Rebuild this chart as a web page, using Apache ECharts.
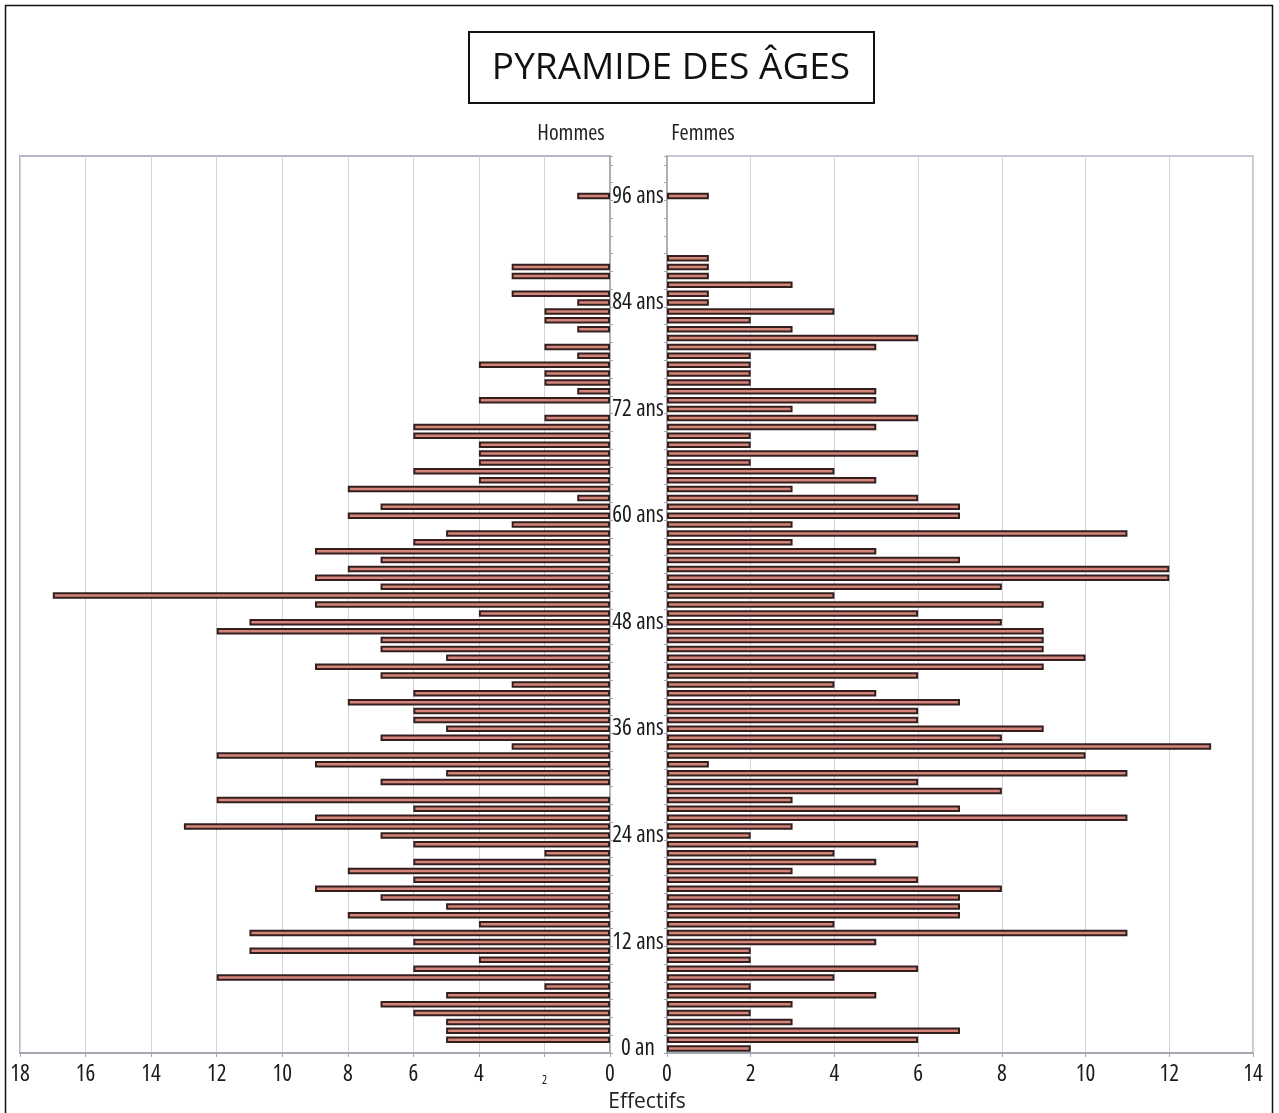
<!DOCTYPE html>
<html>
<head>
<meta charset="utf-8">
<title>Pyramide des âges</title>
<script src="https://cdn.jsdelivr.net/npm/echarts@6/dist/echarts.min.js"></script>
<style>
  html, body { margin: 0; padding: 0; background: #ffffff; }
  #chart { width: 1279px; height: 1113px; }
</style>
</head>
<body>
<div id="chart"></div>
<script>
// Age classes, 0 to 100 years (one bar per year)
const ages = Array.from({ length: 101 }, (_, i) => i);

// Men per age (index = age)
const maleCounts = [
  0, 5, 5, 5, 6, 7, 5, 2, 12, 6,
  4, 11, 6, 11, 4, 8, 5, 7, 9, 6,
  8, 6, 2, 6, 7, 13, 9, 6, 12, 0,
  7, 5, 9, 12, 3, 7, 5, 6, 6, 8,
  6, 3, 7, 9, 5, 7, 7, 12, 11, 4,
  9, 17, 7, 9, 8, 7, 9, 6, 5, 3,
  8, 7, 1, 8, 4, 6, 4, 4, 4, 6,
  6, 2, 0, 4, 1, 2, 2, 4, 1, 2,
  0, 1, 2, 2, 1, 3, 0, 3, 3, 0,
  0, 0, 0, 0, 0, 0, 1, 0, 0, 0, 0
];

// Women per age (index = age)
const femaleCounts = [
  2, 6, 7, 3, 2, 3, 5, 2, 4, 6,
  2, 2, 5, 11, 4, 7, 7, 7, 8, 6,
  3, 5, 4, 6, 2, 3, 11, 7, 3, 8,
  6, 11, 1, 10, 13, 8, 9, 6, 6, 7,
  5, 4, 6, 9, 10, 9, 9, 9, 8, 6,
  9, 4, 8, 12, 12, 7, 5, 3, 11, 3,
  7, 7, 6, 3, 5, 4, 2, 6, 2, 2,
  5, 6, 3, 5, 5, 2, 2, 2, 2, 5,
  6, 3, 2, 4, 1, 1, 3, 1, 1, 1,
  0, 0, 0, 0, 0, 0, 1, 0, 0, 0, 0
];

// Scale ticks
const maleTicks = [0, 2, 4, 6, 8, 10, 12, 14, 16, 18];
const femaleTicks = [0, 2, 4, 6, 8, 10, 12, 14];
const ageLabelStep = 12;

// Open Sans ships with a width axis: 'condensed' gives the narrow label face
const LABEL_FONT = "'Open Sans', 'DejaVu Sans', sans-serif";
const NARROW = 'condensed';
const BAR_FILL = '#d6847a';
const BAR_EDGE = '#33201e';
const GRID_LINE = '#d3d3db';
const FRAME = '#b3b6c6';

function ageLabel(v) {
  const a = Number(v);
  return a === 0 ? '0 an' : a + ' ans';
}

function valueAxis(gridIndex, ticks, inverse, formatter) {
  return {
    type: 'value',
    gridIndex: gridIndex,
    inverse: inverse,
    min: ticks[0],
    max: ticks[ticks.length - 1],
    interval: 2,
    axisLine: { show: true, lineStyle: { color: '#a4a6b0', width: 2 } },
    axisTick: { show: true, length: 4, lineStyle: { color: '#a4a6b0' } },
    splitLine: { show: true, lineStyle: { color: GRID_LINE, width: 1 } },
    axisLabel: {
      fontFamily: LABEL_FONT,
      fontWeight: NARROW,
      fontSize: 23,
      color: '#1a1a1a',
      margin: 10,
      formatter: formatter,
      rich: { small: { fontFamily: LABEL_FONT, fontWeight: NARROW, fontSize: 12, color: '#1a1a1a', padding: [12, 0, 0, 0] } }
    }
  };
}

function categoryAxis(gridIndex, position, showLabels) {
  return {
    type: 'category',
    gridIndex: gridIndex,
    position: position,
    data: ages,
    axisLine: { show: true, lineStyle: { color: '#a4a6b0', width: 1.5 } },
    axisTick: { show: true, interval: 1, length: 3, lineStyle: { color: '#a4a6b0' } },
    splitLine: { show: false },
    axisLabel: {
      show: showLabels,
      interval: (index) => index % ageLabelStep === 0 && index <= 96,
      formatter: ageLabel,
      fontFamily: LABEL_FONT,
      fontWeight: NARROW,
      fontSize: 23,
      color: '#1a1a1a',
      align: 'center',
      margin: 29
    }
  };
}

function barSeries(name, axisIndex, values) {
  return {
    name: name,
    type: 'bar',
    xAxisIndex: axisIndex,
    yAxisIndex: axisIndex,
    data: values.map(v => (v === 0 ? null : v)),
    barWidth: 6.5,
    itemStyle: { color: BAR_FILL, borderColor: BAR_EDGE, borderWidth: 2 },
    silent: true
  };
}

const chart = echarts.init(document.getElementById('chart'), null, { renderer: 'canvas' });

chart.setOption({
  animation: false,
  backgroundColor: '#ffffff',
  grid: [
    { left: 20, top: 156, width: 590, height: 897, show: true, borderColor: FRAME, borderWidth: 2, containLabel: false },
    { left: 667, top: 156, width: 586, height: 897, show: true, borderColor: FRAME, borderWidth: 1.5, containLabel: false }
  ],
  xAxis: [
    valueAxis(0, maleTicks, true, v => (v === 2 ? '{small|2}' : String(v))),
    valueAxis(1, femaleTicks, false, v => String(v))
  ],
  yAxis: [
    categoryAxis(0, 'right', false),
    categoryAxis(1, 'left', true)
  ],
  series: [
    barSeries('Hommes', 0, maleCounts),
    barSeries('Femmes', 1, femaleCounts)
  ],
  graphic: [
    {
      type: 'rect', silent: true,
      shape: { x: 5.5, y: 5.5, width: 1267, height: 1130 },
      style: { fill: null, stroke: '#111111', lineWidth: 1.5 }
    },
    {
      type: 'rect', silent: true,
      shape: { x: 469, y: 32, width: 405, height: 71 },
      style: { fill: '#ffffff', stroke: '#111111', lineWidth: 2 }
    },
    {
      type: 'text', silent: true, x: 671, y: 68,
      style: {
        text: 'PYRAMIDE DES ÂGES', fill: '#111111',
        font: "37px 'Open Sans', 'Noto Sans', sans-serif",
        align: 'center', verticalAlign: 'middle'
      }
    },
    {
      type: 'text', silent: true, x: 571, y: 134,
      style: {
        text: 'Hommes', fill: '#222222',
        font: "condensed 22px 'Open Sans', sans-serif",
        align: 'center', verticalAlign: 'middle'
      }
    },
    {
      type: 'text', silent: true, x: 703, y: 134,
      style: {
        text: 'Femmes', fill: '#222222',
        font: "condensed 22px 'Open Sans', sans-serif",
        align: 'center', verticalAlign: 'middle'
      }
    },
    {
      type: 'text', silent: true, x: 647, y: 1102,
      style: {
        text: 'Effectifs', fill: '#222222',
        font: "21px 'Open Sans', 'Noto Sans', sans-serif",
        align: 'center', verticalAlign: 'middle'
      }
    }
  ]
});
</script>
</body>
</html>
